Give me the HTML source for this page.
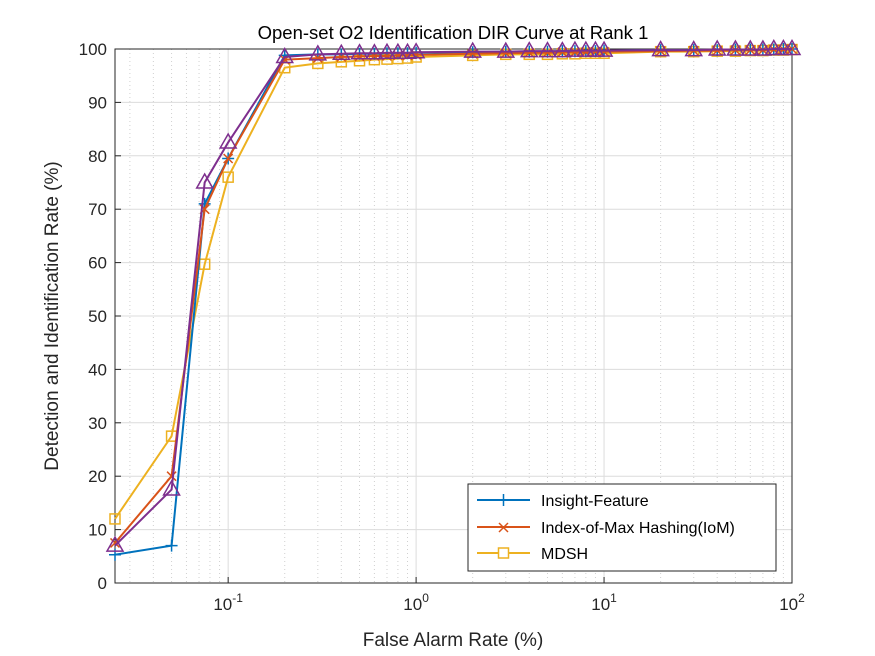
<!DOCTYPE html>
<html><head><meta charset="utf-8"><style>
body{margin:0;background:#fff}
svg{display:block;font-family:"Liberation Sans",Arial,sans-serif}
</style></head><body>
<svg id="chart" width="875" height="656" viewBox="0 0 875 656">
<rect x="0" y="0" width="875" height="656" fill="#fff"/>
<g id="grid"></g>
<g id="axes"></g>
<g id="series"></g>
<text x="453" y="39" font-size="18.5" text-anchor="middle" fill="#000">Open-set O2 Identification DIR Curve at Rank 1</text>
<text x="453" y="646" font-size="19" text-anchor="middle" fill="#262626">False Alarm Rate (%)</text>
<text transform="translate(58,316) rotate(-90)" font-size="19" text-anchor="middle" fill="#262626">Detection and Identification Rate (%)</text>
<g>
<rect x="468" y="484" width="308" height="87" fill="#fff" stroke="#262626" stroke-width="1"/>
<g>
<line x1="477" y1="500" x2="530" y2="500" stroke="#0072BD" stroke-width="2"/>
<path d="M497.5 500h12M503.5 494v12" stroke="#0072BD" stroke-width="1.5"/>
<text x="541" y="506" font-size="16" fill="#000">Insight-Feature</text></g>
<g>
<line x1="477" y1="527" x2="530" y2="527" stroke="#D95319" stroke-width="2"/>
<path d="M499 523l9 9M508 523l-9 9" stroke="#D95319" stroke-width="1.5"/>
<text x="541" y="533" font-size="16" fill="#000">Index-of-Max Hashing(IoM)</text></g>
<g>
<line x1="477" y1="553" x2="530" y2="553" stroke="#EDB120" stroke-width="2"/>
<rect x="498.5" y="548" width="10" height="10" fill="#fff" stroke="#EDB120" stroke-width="1.5"/>
<text x="541" y="559" font-size="16" fill="#000">MDSH</text></g>
</g>
</svg>
<script>
const xValues=[0.025,0.05,0.075,0.1,0.2,0.3,0.4,0.5,0.6,0.7,0.8,0.9,1,2,3,4,5,6,7,8,9,10,20,30,40,50,60,70,80,90,100];
const insightValues=[5.3,7,71,79.5,98.8,99,99,99.1,99.1,99.2,99.2,99.2,99.3,99.4,99.5,99.5,99.5,99.6,99.6,99.6,99.6,99.7,99.8,99.8,99.8,99.9,99.9,99.9,99.9,100,100];
const iomValues=[7.5,20,70,79.5,98,98.3,98.5,98.6,98.7,98.7,98.8,98.8,98.9,99.1,99.2,99.3,99.3,99.4,99.4,99.4,99.5,99.5,99.6,99.7,99.7,99.8,99.8,99.8,99.9,99.9,100];
const mdshValues=[12,27.5,59.7,76,96.5,97.3,97.6,97.8,98,98.1,98.2,98.3,98.5,98.8,99,99,99,99.1,99.1,99.2,99.2,99.2,99.5,99.5,99.6,99.6,99.7,99.7,99.8,99.8,99.9];
const extraValues=[7,17.5,75,82.5,98.5,99,99.1,99.2,99.2,99.3,99.3,99.3,99.4,99.5,99.5,99.6,99.6,99.6,99.7,99.7,99.7,99.7,99.8,99.8,99.9,99.9,99.9,99.9,100,100,100];
const yTicks=[0,10,20,30,40,50,60,70,80,90,100];
const xDecades=[-1,0,1,2];

const L=115,R=792,T=49,B=583;
const lmin=Math.log10(0.025),lmax=2;
const sx=v=>L+(Math.log10(v)-lmin)/(lmax-lmin)*(R-L);
const sy=v=>B-v/100*(B-T);
const NS='http://www.w3.org/2000/svg';
function mk(tag,attrs,parent){const e=document.createElementNS(NS,tag);for(const k in attrs)e.setAttribute(k,attrs[k]);parent.appendChild(e);return e;}
const grid=document.getElementById('grid'),axes=document.getElementById('axes'),ser=document.getElementById('series');
for(let d=-2;d<=1;d++)for(let m=2;m<=9;m++){const v=m*Math.pow(10,d);if(v<0.025||v>100)continue;const x=sx(v);
const g=mk('line',{x1:x,x2:x,y1:T,y2:B,stroke:'#d0d0d0','stroke-width':1,'stroke-dasharray':'1,3'},grid);

}
xDecades.forEach(d=>{const x=sx(Math.pow(10,d));
const g=mk('line',{x1:x,x2:x,y1:T,y2:B,stroke:'#dcdcdc','stroke-width':1},grid);


const t=mk('text',{x:x,y:610,'font-size':17,'text-anchor':'middle',fill:'#262626'},axes);


t.innerHTML='10<tspan dy="-8" font-size="12">'+d+'</tspan>';
mk('line',{x1:x,x2:x,y1:B,y2:B-6,stroke:'#262626'},axes);});
yTicks.forEach(v=>{const y=sy(v);
const g=mk('line',{x1:L,x2:R,y1:y,y2:y,stroke:'#dcdcdc','stroke-width':1},grid);


const t=mk('text',{x:L-8,y:y+6,'font-size':17,'text-anchor':'end',fill:'#262626'},axes);


t.textContent=v;
mk('line',{x1:L,x2:L+6,y1:y,y2:y,stroke:'#262626'},axes);});
const box=mk('rect',{x:L,y:T,width:R-L,height:B-T,fill:'none',stroke:'#262626','stroke-width':1},axes);



function series(vals,color,marker,name){
const g=mk('g',{},ser);


const pts=vals.map((v,i)=>[sx(xValues[i]),sy(v)]);
mk('polyline',{points:pts.map(p=>p.join(',')).join(' '),fill:'none',stroke:color,'stroke-width':2},g);
pts.forEach(([x,y])=>{let m;
if(marker==='plus')m=mk('path',{d:`M${x-6} ${y}h12M${x} ${y-6}v12`,stroke:color,'stroke-width':1.5},g);
else if(marker==='x')m=mk('path',{d:`M${x-4.5} ${y-4.5}l9 9M${x+4.5} ${y-4.5}l-9 9`,stroke:color,'stroke-width':1.5},g);
else if(marker==='sq')m=mk('rect',{x:x-5,y:y-5,width:10,height:10,fill:'none',stroke:color,'stroke-width':1.5},g);
else m=mk('path',{d:`M${x} ${y-8.5}L${x+8} ${y+5.5}L${x-8} ${y+5.5}Z`,fill:'none',stroke:color,'stroke-width':1.5},g);

});}
series(mdshValues,'#EDB120','sq','series-mdsh');
series(insightValues,'#0072BD','plus','series-insight-feature');
series(iomValues,'#D95319','x','series-iom');
series(extraValues,'#7E2F8E','tri','series-purple');
</script>
</body></html>
